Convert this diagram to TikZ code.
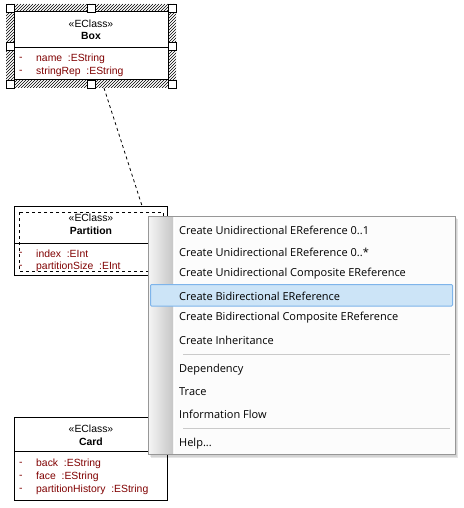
\documentclass[tikz,border=0pt]{standalone}
\usepackage{fontspec}
\setmainfont{Liberation Sans}
\newfontfamily\menufont{Open Sans}
\definecolor{attrred}{HTML}{800000}
\definecolor{menuborder}{HTML}{979797}
\definecolor{menubg}{HTML}{FCFCFC}
\definecolor{hlfill}{HTML}{CCE4F7}
\definecolor{hlborder}{HTML}{7EB4EA}
\definecolor{sepline}{HTML}{CACACA}
\definecolor{stripL}{HTML}{F4F4F4}
\definecolor{stripR}{HTML}{C6C6C6}
\tikzset{
  umlbox/.style={draw=black, fill=white, line width=1pt, inner sep=0pt, outer sep=0pt, anchor=north west},
  stereo/.style={font=\fontsize{10.4}{12}\selectfont, inner sep=0pt},
  cname/.style={font=\fontsize{10.4}{12}\selectfont\bfseries, inner sep=0pt},
  attr/.style={font=\fontsize{10.4}{12}\selectfont, text=attrred, anchor=west, inner sep=0pt},
  handle/.style={draw=black, fill=white, line width=0.8pt, minimum size=8pt, inner sep=0pt},
  menuitem/.style={font=\menufont\fontsize{11}{13}\selectfont, anchor=west, inner sep=0pt},
  menusep/.style={draw=sepline, line width=1pt},
  dep/.style={draw=black, line width=0.8pt, dash pattern=on 3pt off 3pt},
  hatch/.style={draw=black, line width=0.5pt},
}
\begin{document}
\begin{tikzpicture}[x=1pt, y=-1pt]
\useasboundingbox (0,0) rectangle (463,508);
\fill[white] (0,0) rectangle (463,508);

% dependency connector
\coordinate (depA) at (104,88);
\coordinate (depB) at (144,212);
\draw[dep] (depA) -- (depB);

% ---- Box (selected) ----
\begin{scope}[even odd rule]
  \clip (6,4) rectangle (176,88) (14,12) rectangle (168,80);
  \foreach \i in {-90,-87,...,180}
    \draw[hatch] (\i,88) -- ++(84,-84);
\end{scope}
\node[umlbox, minimum width=154pt, minimum height=68pt] (box) at (14,12) {};
\draw[line width=1pt] (14,48) -- (168,48);
\node[stereo] (boxst) at (91,24) {«EClass»};
\node[cname] (boxnm) at (91,36) {Box};
\node[attr] (boxd1) at (19,59) {-};
\node[attr] (boxa1) at (36,59) {name\ \ :EString};
\node[attr] (boxd2) at (19,72) {-};
\node[attr] (boxa2) at (36,72) {stringRep\ \ :EString};
\foreach \hx/\hy [count=\i] in {10/8, 91/8, 172/8, 10/46, 172/46, 10/84, 91/84, 172/84}
  \node[handle] (h\i) at (\hx,\hy) {};

% ---- Partition ----
\node[umlbox, minimum width=153pt, minimum height=69pt] (part) at (14,206) {};
\draw[line width=1pt] (14,243) -- (167,243);
\node[stereo] (partst) at (91,218) {«EClass»};
\node[cname] (partnm) at (91,231) {Partition};
\node[attr] (partd1) at (19,254) {-};
\node[attr] (parta1) at (36,254) {index\ \ :EInt};
\node[attr] (partd2) at (19,267) {-};
\node[attr] (parta2) at (36,267) {partitionSize\ \ :EInt};
\draw[dep] (19,212) rectangle (163,271);

% ---- Card ----
\node[umlbox, minimum width=153pt, minimum height=83pt] (card) at (14,417) {};
\draw[line width=1pt] (14,451) -- (167,451);
\node[stereo] (cardst) at (91,429) {«EClass»};
\node[cname] (cardnm) at (91,442) {Card};
\node[attr] (cardd1) at (19,464) {-};
\node[attr] (carda1) at (36,464) {back\ \ :EString};
\node[attr] (cardd2) at (19,477) {-};
\node[attr] (carda2) at (36,477) {face\ \ :EString};
\node[attr] (cardd3) at (19,490) {-};
\node[attr] (carda3) at (36,490) {partitionHistory\ \ :EString};

% ---- context menu ----
\fill[black, opacity=0.10] (151,219) rectangle (458,458);
\fill[black, opacity=0.08] (150,218) rectangle (457,457);
\filldraw[fill=menubg, draw=menuborder, line width=1pt] (148,216) rectangle (455,454);
\shade[left color=stripL, right color=stripR] (149,217) rectangle (173,453);
\draw[white, line width=1pt] (174,217) -- (174,453);
\filldraw[fill=hlfill, draw=hlborder, line width=1pt, rounded corners=1pt] (150.5,284.5) rectangle (452.5,306);
\node[menuitem] (m1) at (179,230) {Create Unidirectional EReference 0..1};
\node[menuitem] (m2) at (179,252) {Create Unidirectional EReference 0..*};
\node[menuitem] (m3) at (179,274) {Create Unidirectional Composite EReference};
\node[menuitem] (m4) at (179,296) {Create Bidirectional EReference};
\node[menuitem] (m5) at (179,318) {Create Bidirectional Composite EReference};
\node[menuitem] (m6) at (179,340) {Create Inheritance};
\draw[menusep] (183,354) -- (450,354);
\node[menuitem] (m7) at (179,370) {Dependency};
\node[menuitem] (m8) at (179,392) {Trace};
\node[menuitem] (m9) at (179,414) {Information Flow};
\draw[menusep] (183,428) -- (450,428);
\node[menuitem] (m10) at (179,444) {Help...};
\end{tikzpicture}
\end{document}
